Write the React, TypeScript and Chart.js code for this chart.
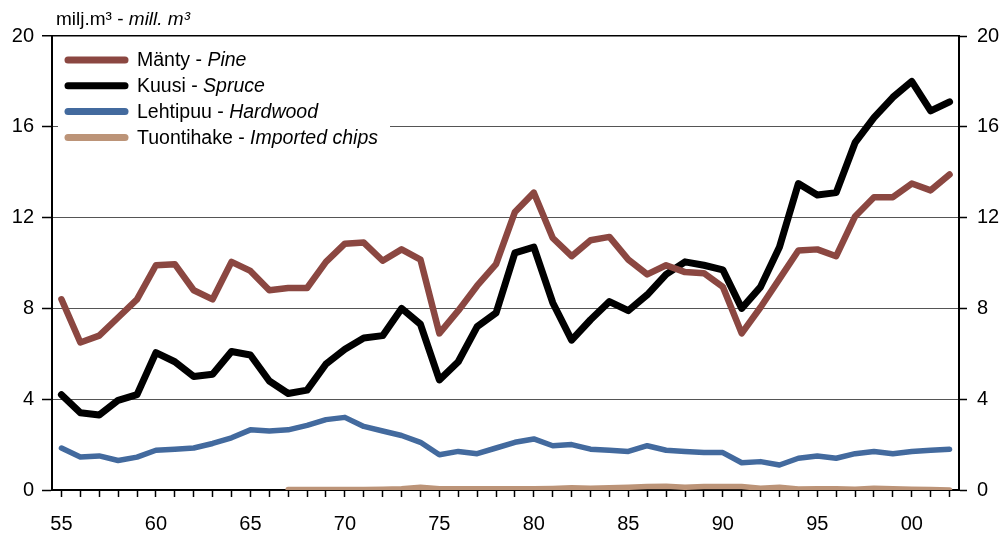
import React, { useEffect, useRef } from "react";
import { Chart, registerables } from "chart.js";

Chart.register(...registerables);

const years = [
  1955, 1956, 1957, 1958, 1959, 1960, 1961, 1962, 1963, 1964,
  1965, 1966, 1967, 1968, 1969, 1970, 1971, 1972, 1973, 1974,
  1975, 1976, 1977, 1978, 1979, 1980, 1981, 1982, 1983, 1984,
  1985, 1986, 1987, 1988, 1989, 1990, 1991, 1992, 1993, 1994,
  1995, 1996, 1997, 1998, 1999, 2000, 2001, 2002,
];

const pine = [
  8.4, 6.5, 6.8, 7.6, 8.4, 9.9, 9.95, 8.8, 8.4, 10.05,
  9.65, 8.8, 8.9, 8.9, 10.05, 10.85, 10.9, 10.1, 10.6, 10.15,
  6.9, 7.9, 9.0, 9.95, 12.25, 13.1, 11.1, 10.3, 11.0, 11.15,
  10.15, 9.5, 9.9, 9.6, 9.55, 8.95, 6.9, 8.05, 9.3, 10.55,
  10.6, 10.3, 12.05, 12.9, 12.9, 13.5, 13.2, 13.9,
];

const spruce = [
  4.2, 3.4, 3.3, 3.95, 4.2, 6.05, 5.65, 5.0, 5.1, 6.1,
  5.95, 4.8, 4.25, 4.4, 5.55, 6.2, 6.7, 6.8, 8.0, 7.3,
  4.85, 5.65, 7.2, 7.8, 10.45, 10.7, 8.25, 6.6, 7.5, 8.3,
  7.9, 8.6, 9.5, 10.05, 9.9, 9.7, 8.0, 8.95, 10.7, 13.5,
  13.0, 13.1, 15.3, 16.4, 17.3, 18.0, 16.7, 17.1,
];

const hardwood = [
  1.85, 1.45, 1.5, 1.3, 1.45, 1.75, 1.8, 1.85, 2.05, 2.3,
  2.65, 2.6, 2.65, 2.85, 3.1, 3.2, 2.8, 2.6, 2.4, 2.1,
  1.55, 1.7, 1.6, 1.85, 2.1, 2.25, 1.95, 2.0, 1.8, 1.75,
  1.7, 1.95, 1.75, 1.7, 1.65, 1.65, 1.2, 1.25, 1.1, 1.4,
  1.5, 1.4, 1.6, 1.7, 1.6, 1.7, 1.75, 1.8,
];

const importedChips = [
  null, null, null, null, null, null, null, null, null, null,
  null, null, 0.02, 0.02, 0.02, 0.02, 0.02, 0.03, 0.05, 0.12,
  0.05, 0.05, 0.06, 0.05, 0.05, 0.05, 0.07, 0.1, 0.08, 0.1,
  0.12, 0.15, 0.17, 0.12, 0.15, 0.15, 0.15, 0.08, 0.12, 0.04,
  0.05, 0.05, 0.03, 0.08, 0.05, 0.03, 0.02, 0.0,
];

const namesFi = ["Mänty - ", "Kuusi - ", "Lehtipuu - ", "Tuontihake - "];
const namesEn = ["Pine", "Spruce", "Hardwood", "Imported chips"];
const colors = ["#8B4741", "#000000", "#436A9E", "#BC9478"];
const widths = [6.5, 7, 5.5, 5.5];

const yTicks = [0, 4, 8, 12, 16, 20];
const unitFi = "milj.m³ - ";
const unitEn = "mill. m³";

const FONT = '"Liberation Sans", Arial, sans-serif';

const overlayPlugin = {
  id: "overlay",
  afterDraw(chart: any) {
    const ctx = chart.ctx as CanvasRenderingContext2D;
    ctx.save();
    // legend box
    ctx.fillStyle = "#ffffff";
    ctx.fillRect(58, 40, 332, 118);
    ctx.textBaseline = "middle";
    chart.data.datasets.forEach((ds: any, i: number) => {
      const y = 60 + i * 25.8;
      ctx.strokeStyle = ds.borderColor;
      ctx.lineWidth = 7;
      ctx.lineCap = "round";
      ctx.beginPath();
      ctx.moveTo(68, y);
      ctx.lineTo(125, y);
      ctx.stroke();
      ctx.fillStyle = "#000";
      ctx.font = `19.5px ${FONT}`;
      ctx.fillText(namesFi[i], 137, y + 1);
      const w = ctx.measureText(namesFi[i]).width;
      ctx.font = `italic 19.5px ${FONT}`;
      ctx.fillText(namesEn[i], 137 + w, y + 1);
    });
    // unit title
    ctx.textBaseline = "alphabetic";
    ctx.fillStyle = "#000";
    ctx.font = `19px ${FONT}`;
    ctx.fillText(unitFi, 56, 25);
    const w2 = ctx.measureText(unitFi).width;
    ctx.font = `italic 19px ${FONT}`;
    ctx.fillText(unitEn, 56 + w2, 25);
    ctx.restore();
  },
};

export default function App() {
  const ref = useRef<HTMLCanvasElement>(null);

  useEffect(() => {
    const series = [pine, spruce, hardwood, importedChips];
    const chart = new Chart(ref.current as HTMLCanvasElement, {
      type: "line",
      data: {
        labels: years,
        datasets: series.map((d, i) => ({
          label: namesFi[i] + namesEn[i],
          data: d as any,
          borderColor: colors[i],
          backgroundColor: colors[i],
          borderWidth: widths[i],
          pointRadius: 0,
          tension: 0,
          fill: false,
          spanGaps: false,
          borderCapStyle: "round" as const,
          borderJoinStyle: "round" as const,
          yAxisID: "y",
        })),
      },
      options: {
        responsive: false,
        devicePixelRatio: 1,
        animation: false,
        layout: { padding: { top: 36, left: 0, right: 0, bottom: 0 } },
        plugins: {
          legend: { display: false },
          tooltip: { enabled: false },
          title: { display: false },
        },
        scales: {
          x: {
            type: "category",
            offset: true,
            grid: {
              drawOnChartArea: false,
              drawTicks: true,
              tickLength: 7,
              tickColor: "#000",
              tickWidth: 1.5,
              offset: false,
            },
            border: { display: true, color: "#000", width: 2 },
            ticks: {
              autoSkip: false,
              maxRotation: 0,
              minRotation: 0,
              padding: 15,
              color: "#000",
              font: { family: FONT, size: 20 },
              callback: (_v: any, idx: number) => {
                const yr = years[idx];
                return yr % 5 === 0 ? String(yr % 100).padStart(2, "0") : "";
              },
            },
            afterFit: (s: any) => {
              s.height = 50;
            },
          },
          y: {
            position: "left",
            min: 0,
            max: 20,
            afterBuildTicks: (s: any) => {
              s.ticks = yTicks.map((v) => ({ value: v }));
            },
            grid: {
              color: (c: any) =>
                c.tick && (c.tick.value === 20 || c.tick.value === 0) ? "#000" : "#555",
              lineWidth: (c: any) => (c.tick && c.tick.value === 20 ? 1.5 : 1),
              tickColor: "#000",
              tickLength: 10,
              tickWidth: 1.5,
            },
            border: { display: true, color: "#000", width: 2 },
            ticks: {
              padding: 8,
              color: "#000",
              font: { family: FONT, size: 20 },
            },
            afterFit: (s: any) => {
              s.width = 52;
            },
          },
          y2: {
            position: "right",
            min: 0,
            max: 20,
            afterBuildTicks: (s: any) => {
              s.ticks = yTicks.map((v) => ({ value: v }));
            },
            grid: {
              drawOnChartArea: false,
              tickColor: "#000",
              tickLength: 8,
              tickWidth: 1.5,
            },
            border: { display: true, color: "#000", width: 2 },
            ticks: {
              padding: 10,
              color: "#000",
              font: { family: FONT, size: 20 },
            },
            afterFit: (s: any) => {
              s.width = 46;
            },
          },
        },
      },
      plugins: [overlayPlugin],
    });
    return () => chart.destroy();
  }, []);

  return (
    <div
      style={{
        position: "absolute",
        left: 0,
        top: 0,
        width: 1005,
        height: 540,
        background: "#fff",
      }}
    >
      <canvas ref={ref} width={1005} height={540} style={{ display: "block" }} />
    </div>
  );
}
